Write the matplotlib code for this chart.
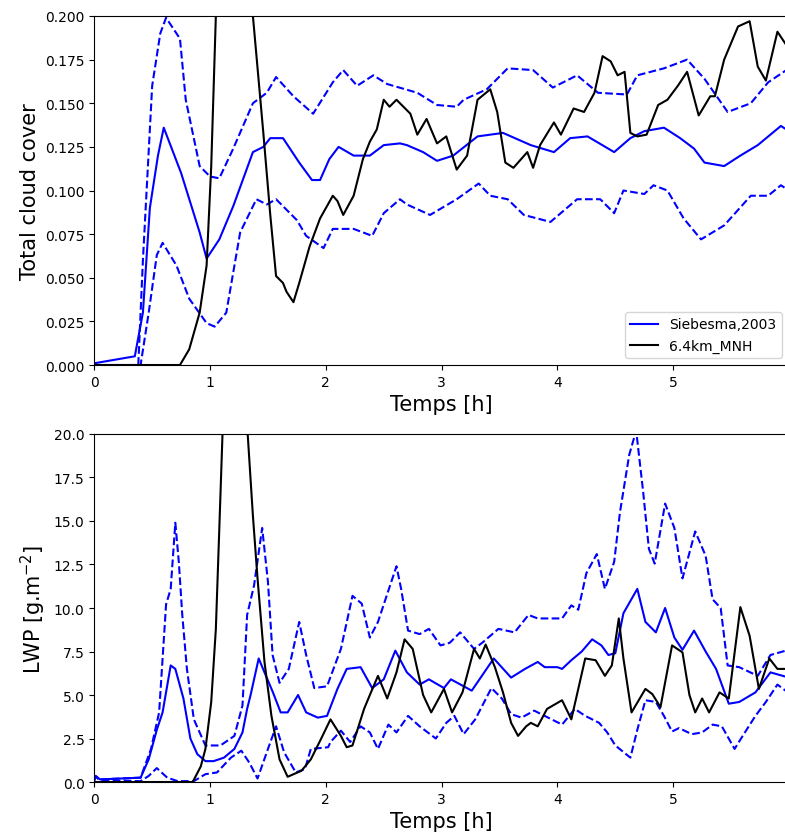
import numpy as np
import matplotlib
matplotlib.use("Agg")
import matplotlib.pyplot as plt

# --- Total cloud cover ---
t_cc_mean = [0.0, 0.35, 0.42, 0.48, 0.55, 0.60, 0.75, 0.91, 0.97, 1.08, 1.2, 1.37, 1.46, 1.52, 1.63, 1.77, 1.88, 1.95,
             2.03, 2.11, 2.24, 2.38, 2.5, 2.64, 2.70, 2.84, 2.96, 3.10, 3.31, 3.53, 3.77, 3.97, 4.11, 4.26, 4.49,
             4.63, 4.75, 4.92, 5.06, 5.18, 5.27, 5.44, 5.58, 5.73, 5.93, 6.0]
cc_mean = [0.001, 0.005, 0.03, 0.09, 0.12, 0.136, 0.11, 0.076, 0.061, 0.072, 0.091, 0.122, 0.125, 0.13, 0.13, 0.116,
           0.106, 0.106, 0.118, 0.125, 0.12, 0.12, 0.126, 0.127, 0.126, 0.122, 0.117, 0.12, 0.131, 0.133, 0.126,
           0.122, 0.13, 0.131, 0.122, 0.13, 0.134, 0.136, 0.13, 0.124, 0.116, 0.114, 0.12, 0.126, 0.137, 0.134]

t_cc_up = [0.0, 0.38, 0.42, 0.50, 0.57, 0.62, 0.74, 0.79, 0.91, 1.0, 1.08, 1.2, 1.37, 1.49, 1.57, 1.72, 1.89, 2.06,
           2.15, 2.27, 2.41, 2.53, 2.79, 2.96, 3.13, 3.19, 3.39, 3.57, 3.79, 3.96, 4.17, 4.35, 4.6, 4.69, 4.92,
           5.12, 5.27, 5.47, 5.67, 5.82, 6.0]
cc_up = [0.0, 0.0, 0.06, 0.16, 0.19, 0.199, 0.187, 0.152, 0.114, 0.108, 0.107, 0.124, 0.15, 0.156, 0.165, 0.154,
         0.144, 0.162, 0.169, 0.16, 0.166, 0.161, 0.156, 0.149, 0.148, 0.152, 0.158, 0.17, 0.169, 0.159, 0.166,
         0.156, 0.155, 0.166, 0.17, 0.175, 0.164, 0.145, 0.15, 0.162, 0.17]

t_cc_low = [0.0, 0.40, 0.47, 0.54, 0.59, 0.71, 0.82, 0.97, 1.04, 1.14, 1.26, 1.4, 1.49, 1.57, 1.75, 1.83, 1.98, 2.06,
            2.24, 2.4, 2.5, 2.64, 2.70, 2.9, 3.13, 3.32, 3.42, 3.57, 3.71, 3.94, 4.17, 4.37, 4.49, 4.57, 4.75,
            4.83, 4.95, 5.09, 5.24, 5.44, 5.67, 5.82, 5.93, 6.0]
cc_low = [0.0, 0.0, 0.03, 0.063, 0.07, 0.057, 0.038, 0.024, 0.022, 0.03, 0.076, 0.095, 0.092, 0.095, 0.083, 0.074,
          0.067, 0.078, 0.078, 0.074, 0.087, 0.095, 0.092, 0.086, 0.095, 0.104, 0.097, 0.095, 0.086, 0.082, 0.095,
          0.095, 0.087, 0.1, 0.098, 0.103, 0.1, 0.084, 0.072, 0.08, 0.097, 0.097, 0.103, 0.1]

t_cc_mnh = [0.0, 0.74, 0.82, 0.91, 0.97, 1.01, 1.05, 1.12, 1.2, 1.3, 1.37, 1.46, 1.52, 1.57, 1.63, 1.66, 1.72, 1.77,
            1.86, 1.95, 2.06, 2.10, 2.15, 2.24, 2.32, 2.38, 2.44, 2.5, 2.55, 2.61, 2.73, 2.79, 2.87, 2.96, 3.04,
            3.13, 3.22, 3.31, 3.42, 3.48, 3.55, 3.62, 3.74, 3.79, 3.85, 3.97, 4.03, 4.14, 4.23, 4.32, 4.39, 4.46,
            4.52, 4.58, 4.63, 4.69, 4.77, 4.87, 4.95, 5.04, 5.12, 5.22, 5.32, 5.36, 5.44, 5.56, 5.66, 5.73, 5.8,
            5.9, 6.0]
cc_mnh = [0.0, 0.0, 0.009, 0.03, 0.057, 0.114, 0.2, 0.3, 0.34, 0.3, 0.2, 0.133, 0.086, 0.051, 0.047, 0.042, 0.036,
          0.047, 0.068, 0.084, 0.097, 0.094, 0.086, 0.097, 0.118, 0.128, 0.135, 0.152, 0.148, 0.152, 0.144, 0.132,
          0.141, 0.127, 0.131, 0.112, 0.12, 0.152, 0.158, 0.145, 0.116, 0.113, 0.122, 0.113, 0.126, 0.139, 0.132,
          0.147, 0.145, 0.156, 0.177, 0.174, 0.166, 0.168, 0.133, 0.131, 0.132, 0.149, 0.152, 0.16, 0.168, 0.143,
          0.154, 0.154, 0.175, 0.194, 0.197, 0.171, 0.163, 0.191, 0.181]

# --- LWP ---
t_lwp_mean = [0.0, 0.01, 0.05, 0.40, 0.47, 0.54, 0.59, 0.66, 0.70, 0.77, 0.83, 0.89, 0.96, 1.03, 1.12, 1.21, 1.28,
              1.32, 1.35, 1.42, 1.47, 1.54, 1.61, 1.67, 1.76, 1.83, 1.93, 2.01, 2.10, 2.18, 2.30, 2.40, 2.50, 2.60,
              2.70, 2.81, 2.89, 3.02, 3.08, 3.26, 3.45, 3.60, 3.72, 3.83, 3.89, 4.0, 4.04, 4.12, 4.21, 4.30, 4.38,
              4.44, 4.50, 4.57, 4.69, 4.76, 4.85, 4.93, 5.01, 5.08, 5.18, 5.28, 5.37, 5.48, 5.57, 5.71, 5.84, 6.0]
lwp_mean = [0.1, 0.35, 0.15, 0.25, 1.3, 3.0, 4.0, 6.7, 6.5, 4.8, 2.5, 1.6, 1.2, 1.2, 1.4, 1.9, 2.85, 4.2, 5.0, 7.1,
            6.3, 5.2, 4.0, 4.0, 5.0, 4.0, 3.7, 3.8, 5.35, 6.5, 6.6, 5.4, 5.9, 7.55, 6.3, 5.6, 5.9, 5.4, 5.9, 5.25,
            7.1, 6.0, 6.5, 6.9, 6.6, 6.6, 6.5, 7.0, 7.5, 8.2, 7.85, 7.3, 7.4, 9.7, 11.1, 9.2, 8.6, 10.0, 8.3, 7.6,
            8.7, 7.5, 6.5, 4.5, 4.6, 5.15, 6.3, 6.0]

t_lwp_up = [0.0, 0.01, 0.05, 0.40, 0.49, 0.56, 0.62, 0.66, 0.70, 0.73, 0.76, 0.80, 0.86, 0.96, 1.09, 1.21, 1.28,
            1.32, 1.38, 1.45, 1.50, 1.54, 1.60, 1.68, 1.77, 1.83, 1.90, 2.01, 2.13, 2.23, 2.31, 2.38, 2.45, 2.61,
            2.65, 2.71, 2.81, 2.89, 2.99, 3.07, 3.16, 3.28, 3.35, 3.49, 3.63, 3.75, 3.83, 4.04, 4.12, 4.18, 4.25,
            4.34, 4.41, 4.49, 4.54, 4.62, 4.68, 4.74, 4.79, 4.84, 4.93, 5.01, 5.08, 5.19, 5.28, 5.34, 5.41, 5.47,
            5.57, 5.73, 5.84, 6.0]
lwp_up = [0.1, 0.35, 0.15, 0.25, 1.9, 4.0, 10.2, 11.1, 14.9, 12.65, 9.6, 6.5, 3.6, 2.1, 2.1, 2.65, 4.4, 9.6, 11.3,
          14.6, 11.5, 7.3, 5.7, 6.5, 9.2, 7.3, 5.4, 5.5, 7.65, 10.7, 10.25, 8.3, 9.2, 12.4, 11.1, 8.7, 8.5, 8.8,
          7.85, 8.0, 8.6, 7.65, 8.0, 8.8, 8.6, 9.6, 9.4, 9.4, 10.15, 9.9, 12.0, 13.1, 11.1, 12.65, 15.5, 18.8,
          20.2, 16.7, 13.4, 12.55, 16.0, 14.6, 11.7, 14.4, 13.0, 10.5, 10.0, 6.7, 6.6, 6.1, 7.3, 7.6]

t_lwp_low = [0.0, 0.01, 0.05, 0.40, 0.47, 0.54, 0.63, 0.72, 0.86, 0.96, 1.06, 1.18, 1.27, 1.34, 1.41, 1.50, 1.57,
             1.64, 1.74, 1.82, 1.87, 2.02, 2.04, 2.13, 2.21, 2.30, 2.38, 2.45, 2.54, 2.61, 2.71, 2.81, 2.95, 3.04,
             3.11, 3.19, 3.29, 3.43, 3.52, 3.60, 3.69, 3.80, 3.89, 4.04, 4.15, 4.24, 4.36, 4.43, 4.50, 4.63, 4.69,
             4.76, 4.85, 4.92, 4.99, 5.05, 5.16, 5.25, 5.34, 5.42, 5.53, 5.60, 5.71, 5.80, 5.90, 6.0]
lwp_low = [0.1, 0.3, 0.1, 0.05, 0.35, 0.8, 0.25, 0.05, 0.05, 0.45, 0.55, 1.4, 1.8, 1.1, 0.2, 1.9, 3.2, 1.7, 0.55,
           0.75, 1.9, 2.0, 2.3, 2.95, 2.3, 3.2, 2.85, 1.9, 3.3, 2.85, 3.8, 3.2, 2.5, 3.4, 3.8, 2.75, 3.6, 5.4, 4.8,
           3.9, 3.7, 4.1, 3.8, 3.3, 4.2, 3.8, 3.4, 2.85, 2.1, 1.4, 3.0, 4.7, 4.6, 3.8, 2.9, 3.1, 2.75, 2.85, 3.3,
           3.2, 1.9, 2.65, 3.8, 4.6, 5.6, 5.1]

t_lwp_mnh = [0.0, 0.85, 0.92, 0.96, 1.01, 1.05, 1.08, 1.11, 1.2, 1.32, 1.37, 1.41, 1.47, 1.53, 1.60, 1.67, 1.79,
             1.87, 1.96, 2.04, 2.13, 2.18, 2.23, 2.33, 2.38, 2.45, 2.53, 2.61, 2.68, 2.75, 2.84, 2.91, 3.02, 3.09,
             3.18, 3.28, 3.33, 3.38, 3.46, 3.53, 3.60, 3.66, 3.73, 3.77, 3.83, 3.91, 4.04, 4.12, 4.18, 4.24, 4.33,
             4.41, 4.47, 4.53, 4.57, 4.64, 4.76, 4.82, 4.89, 4.99, 5.08, 5.14, 5.19, 5.25, 5.31, 5.40, 5.48, 5.58,
             5.66, 5.74, 5.83, 5.90, 6.0]
lwp_mnh = [0.0, 0.0, 0.9, 1.9, 4.6, 8.8, 14.6, 20.5, 35.0, 20.5, 15.3, 11.7, 6.9, 3.8, 1.3, 0.3, 0.65, 1.3, 2.5,
           3.6, 2.65, 2.0, 2.1, 4.2, 5.0, 6.1, 4.8, 6.3, 8.2, 7.65, 5.0, 4.0, 5.35, 4.0, 5.15, 7.65, 7.1, 7.9, 6.6,
           5.15, 3.4, 2.65, 3.2, 3.4, 3.2, 4.2, 4.7, 3.6, 5.35, 7.1, 7.0, 6.1, 6.7, 9.4, 7.1, 4.0, 5.35, 5.05, 4.3,
           7.85, 7.45, 5.0, 4.0, 4.8, 4.0, 5.15, 4.8, 10.05, 8.4, 5.35, 7.1, 6.5, 6.5]

xticks = [0, 1, 2, 3, 4, 5]

fig = plt.figure(figsize=(7.85, 8.37), dpi=100)

# haut : couverture nuageuse
ax1 = fig.add_axes([0.1201, 0.5627, 0.885, 0.417])
ax1.plot(t_cc_mean, cc_mean, color="blue", label="Siebesma,2003")
ax1.plot(t_cc_up, cc_up, color="blue", linestyle="--")
ax1.plot(t_cc_low, cc_low, color="blue", linestyle="--")
ax1.plot(t_cc_mnh, cc_mnh, color="black", label="6.4km_MNH")
ax1.set_xlim(0, 6)
ax1.set_ylim(0, 0.2)
ax1.set_xticks(xticks)
ax1.set_xlabel("Temps [h]", fontsize=15)
ax1.set_ylabel("Total cloud cover", fontsize=15)
ax1.legend(loc="lower right")

# bas : LWP
ax2 = fig.add_axes([0.1201, 0.0645, 0.885, 0.4158])
ax2.plot(t_lwp_mean, lwp_mean, color="blue")
ax2.plot(t_lwp_up, lwp_up, color="blue", linestyle="--")
ax2.plot(t_lwp_low, lwp_low, color="blue", linestyle="--")
ax2.plot(t_lwp_mnh, lwp_mnh, color="black")
ax2.set_xlim(0, 6)
ax2.set_ylim(0, 20)
ax2.set_xticks(xticks)
ax2.set_xlabel("Temps [h]", fontsize=15)
ax2.set_ylabel("LWP [g.m$^{-2}$]", fontsize=15)

fig.savefig("out.png", dpi=100)
